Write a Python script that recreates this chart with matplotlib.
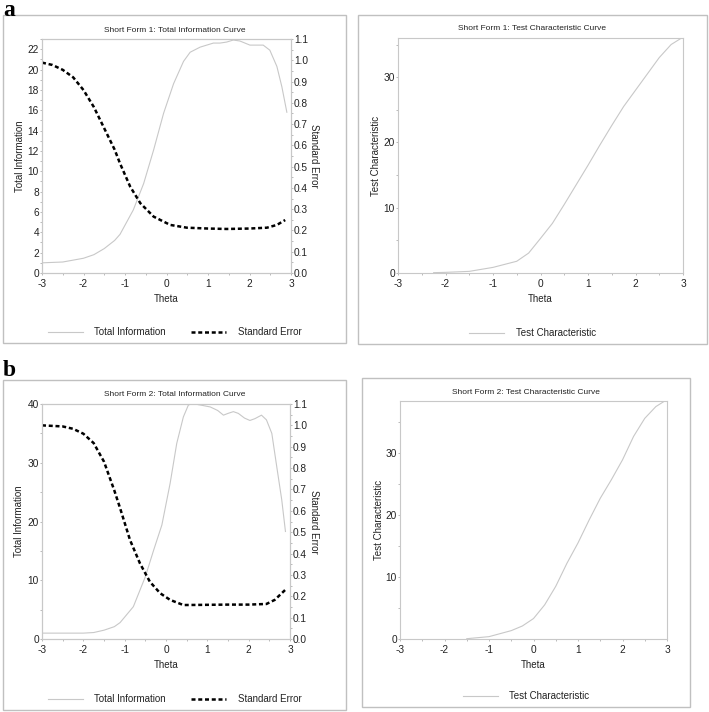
import numpy as np
import matplotlib
matplotlib.use('Agg')
import matplotlib.pyplot as plt
from matplotlib.patches import Rectangle
from matplotlib.lines import Line2D
from matplotlib.ticker import MultipleLocator, FormatStrFormatter

plt.rcParams['font.family'] = ['Liberation Sans', 'DejaVu Sans']
plt.rcParams['axes.unicode_minus'] = False

### DATA ###
# Short Form 1: total information and standard error
theta_a_info = [-3, -2.5, -2, -1.75, -1.5, -1.25, -1.12, -0.8, -0.55, -0.31, -0.07, 0.17,
                0.41, 0.57, 0.81, 1.13, 1.29, 1.45, 1.61, 1.77, 2.01, 2.33, 2.49, 2.66,
                2.78, 2.9]
info_a = [1.0, 1.08, 1.45, 1.8, 2.4, 3.2, 3.8, 6.2, 8.8, 12.1, 15.7, 18.6,
          20.8, 21.7, 22.2, 22.6, 22.6, 22.7, 22.9, 22.8, 22.4, 22.4, 21.9, 20.3,
          18.3, 15.8]
theta_a_se = [-3, -2.75, -2.5, -2.25, -2, -1.75, -1.5, -1.25, -1.12, -0.875, -0.63, -0.31,
              0.09, 0.49, 1.0, 1.45, 2.0, 2.42, 2.66, 2.86]
se_a = [0.989, 0.978, 0.955, 0.92, 0.86, 0.78, 0.68, 0.58, 0.515, 0.406, 0.328, 0.265,
        0.226, 0.213, 0.209, 0.207, 0.209, 0.213, 0.226, 0.249]
# Short Form 1: test characteristic
theta_a_tc = [-2.25, -2, -1.5, -1, -0.5, -0.25, 0, 0.25, 0.5, 0.75, 1.0, 1.25, 1.5, 1.75,
              2.0, 2.25, 2.5, 2.75, 2.97]
tc_a = [0.05, 0.1, 0.25, 0.86, 1.8, 3.05, 5.3, 7.6, 10.5, 13.5, 16.5, 19.6, 22.6, 25.5,
        28.0, 30.5, 33.0, 35.0, 36.0]

# Short Form 2: total information and standard error
theta_b_info = [-3, -2, -1.75, -1.5, -1.25, -1.11, -0.79, -0.5, -0.3, -0.1, 0.1, 0.26, 0.42,
                0.54, 0.62, 0.85, 1.07, 1.25, 1.39, 1.5, 1.63, 1.75, 1.9, 2.03, 2.15, 2.31,
                2.43, 2.56, 2.68, 2.8, 2.89]
info_b = [1.0, 1.0, 1.1, 1.5, 2.1, 2.8, 5.5, 10.6, 15.1, 19.4, 26.5, 33.3, 37.8,
          39.8, 40.1, 39.8, 39.5, 38.9, 38.1, 38.4, 38.7, 38.4, 37.6, 37.2, 37.5, 38.1,
          37.3, 35.0, 29.3, 23.7, 18.3]
theta_b_se = [-3, -2.5, -2.25, -2, -1.75, -1.5, -1.25, -1.11, -0.87, -0.63, -0.39, -0.14,
              0.1, 0.42, 1.0, 1.5, 2.0, 2.43, 2.63, 2.88]
se_b = [1.0, 0.995, 0.984, 0.961, 0.917, 0.83, 0.695, 0.612, 0.463, 0.354, 0.268, 0.214,
        0.183, 0.159, 0.16, 0.161, 0.161, 0.164, 0.183, 0.229]
# Short Form 2: test characteristic
theta_b_tc = [-1.5, -1, -0.5, -0.25, 0, 0.25, 0.5, 0.75, 1.0, 1.25, 1.5, 1.75, 2.0, 2.25,
              2.5, 2.75, 2.95]
tc_b = [0.05, 0.38, 1.35, 2.1, 3.3, 5.5, 8.5, 12.2, 15.5, 19.2, 22.7, 25.7, 28.9, 32.7,
        35.6, 37.5, 38.4]

### STYLE ###
W, H = 709, 712
spine_c = '#c8c8c8'
tick_c = '#b0b0b0'
text_c = '#222222'
info_c = '#c8c8c8'
fs_tick = 7.3
fs_lab = 7.0
fs_title = 6.0

fig = plt.figure(figsize=(W/100, H/100), dpi=100)

def px_rect(x0, y0, x1, y1):
    # pixel box (from top-left) -> figure fraction [l, b, w, h]
    return [x0/W, 1 - y1/H, (x1 - x0)/W, (y1 - y0)/H]

def frame(x0, y0, x1, y1):
    l, b, w, h = px_rect(x0, y0, x1, y1)
    fig.add_artist(Rectangle((l, b), w, h, transform=fig.transFigure,
                             fill=False, edgecolor='#c0c0c0', linewidth=1.0))

def ticks(ax):
    for s in ax.spines.values():
        s.set_color(spine_c)
        s.set_linewidth(0.8)
    ax.tick_params(which='both', direction='out', color=tick_c, labelcolor=text_c,
                   labelsize=fs_tick, pad=0.6, width=0.6, length=1.6)

def style_ax(ax, ymaj, ymin):
    ax.xaxis.set_major_locator(MultipleLocator(1))
    ax.xaxis.set_minor_locator(MultipleLocator(0.5))
    ax.yaxis.set_major_locator(MultipleLocator(ymaj))
    ax.yaxis.set_minor_locator(MultipleLocator(ymin))
    ticks(ax)
    ax.tick_params(axis='x', pad=2.5)
    ax.set_xlim(-3, 3)
    ax.set_xlabel('Theta', fontsize=fs_lab, color=text_c, labelpad=4)

def info_panel(axpos, box, title, th_i, info, th_s, se, ylim, ymaj, ymin, lab_x, se_x):
    frame(*box)
    ax = fig.add_axes(px_rect(*axpos))
    ax.plot(th_i, info, color=info_c, lw=0.8)
    style_ax(ax, ymaj, ymin)
    ax.set_ylim(0, ylim)
    ax.set_ylabel('Total Information', fontsize=fs_lab, color=text_c,
                  va='center', ha='center')
    ax.yaxis.set_label_coords(lab_x, 0.5)
    ax2 = ax.twinx()
    ax2.plot(th_s, se, color='black', lw=1.8, dashes=(1.6, 1.1))
    ax2.set_ylim(0, 1.1)
    ax2.yaxis.set_major_locator(MultipleLocator(0.1))
    ax2.yaxis.set_minor_locator(MultipleLocator(0.05))
    ax2.yaxis.set_major_formatter(FormatStrFormatter('%.1f'))
    ticks(ax2)
    ax2.set_ylabel('Standard Error', fontsize=fs_lab, color=text_c, rotation=270,
                   va='center', ha='center')
    ax2.yaxis.set_label_coords(se_x, 0.5)
    cx = (box[0] + box[2]) / 2 / W
    fig.text(cx, 1 - (axpos[1] - 9) / H, title, ha='center', va='center',
             fontsize=fs_title, color=text_c)
    handles = [Line2D([], [], color=info_c, lw=0.8),
               Line2D([], [], color='black', lw=1.8, dashes=(1.6, 1.1))]
    fig.legend(handles, ['Total Information', 'Standard Error'], loc='center',
               bbox_to_anchor=(cx, 1 - (box[3] - 11) / H), ncol=2, frameon=False,
               fontsize=fs_lab, handlelength=3.6, handletextpad=1.2, columnspacing=2.6,
               labelcolor=text_c)

def tc_panel(axpos, box, title, th, tc, ylim, lab_x):
    frame(*box)
    ax = fig.add_axes(px_rect(*axpos))
    ax.plot(th, tc, color=info_c, lw=0.8)
    style_ax(ax, 10, 5)
    ax.set_ylim(0, ylim)
    ax.set_ylabel('Test Characteristic', fontsize=fs_lab, color=text_c,
                  va='center', ha='center')
    ax.yaxis.set_label_coords(lab_x, 0.5)
    cx = (box[0] + box[2]) / 2 / W
    fig.text(cx, 1 - (axpos[1] - 9) / H, title, ha='center', va='center',
             fontsize=fs_title, color=text_c)
    fig.legend([Line2D([], [], color=info_c, lw=0.8)], ['Test Characteristic'],
               loc='center', bbox_to_anchor=(cx, 1 - (box[3] - 11) / H), frameon=False,
               fontsize=fs_lab, handlelength=3.6, handletextpad=1.2, labelcolor=text_c)

info_panel((42, 39, 291, 273), (3, 15, 346, 343), 'Short Form 1: Total Information Curve',
           theta_a_info, info_a, theta_a_se, se_a, 23, 2, 1, -0.088, 1.094)
tc_panel((398, 38, 683, 273), (358, 15, 707, 344), 'Short Form 1: Test Characteristic Curve',
         theta_a_tc, tc_a, 36, -0.077)
info_panel((42, 404, 290, 639), (3, 380, 346, 710), 'Short Form 2: Total Information Curve',
           theta_b_info, info_b, theta_b_se, se_b, 40, 10, 5, -0.091, 1.095)
tc_panel((400, 401, 667, 639), (362, 378, 690, 707), 'Short Form 2: Test Characteristic Curve',
         theta_b_tc, tc_b, 38.4, -0.077)

fig.text(3/W, 1 - 15.5/H, 'a', fontsize=17, fontweight='bold', family='Liberation Serif',
         ha='left', va='baseline')
fig.text(3/W, 1 - 376/H, 'b', fontsize=17, fontweight='bold', family='Liberation Serif',
         ha='left', va='baseline')

fig.savefig('out.png', dpi=100)
